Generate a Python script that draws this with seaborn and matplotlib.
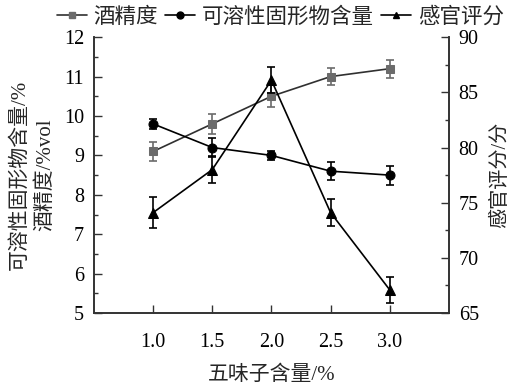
import numpy as np
import pandas as pd
import seaborn as sns
import matplotlib
matplotlib.use("Agg")
import matplotlib.pyplot as plt
from matplotlib.ticker import MultipleLocator
from matplotlib.lines import Line2D

# 五味子含量/%
content = [1.0, 1.5, 2.0, 2.5, 3.0]
# 酒精度
alcohol = [9.1, 9.8, 10.5, 11.0, 11.2]
alcohol_err = [0.24, 0.25, 0.28, 0.22, 0.23]
# 可溶性固形物含量
solids = [9.8, 9.2, 9.0, 8.6, 8.5]
solids_err = [0.12, 0.24, 0.12, 0.23, 0.24]
# 感官评分
score = [74.1, 78.0, 86.1, 74.1, 67.1]
score_err = [1.4, 1.2, 1.2, 1.2, 1.2]

sns.set_theme(style="ticks")
fonts = ["Liberation Serif", "Noto Sans CJK SC", "DejaVu Sans"]
plt.rcParams["font.family"] = fonts
plt.rcParams["axes.unicode_minus"] = False

df = pd.DataFrame({"x": content, "alcohol": alcohol, "solids": solids, "score": score})

fig = plt.figure(figsize=(5.19, 3.87), dpi=100)
ax = fig.add_axes([0.181, 0.191, 0.684, 0.713])
ax2 = ax.twinx()

gray = "#6b6b6b"
sns.lineplot(data=df, x="x", y="alcohol", ax=ax, color="#303030", lw=1.2,
             marker="s", markersize=6, markerfacecolor=gray, markeredgecolor=gray)
ax.errorbar(content, alcohol, yerr=alcohol_err, fmt="none", ecolor=gray,
            elinewidth=1.2, capsize=3, capthick=1.2)
sns.lineplot(data=df, x="x", y="solids", ax=ax, color="black", lw=1.2,
             marker="o", markersize=6.5, markerfacecolor="black", markeredgecolor="black")
ax.errorbar(content, solids, yerr=solids_err, fmt="none", ecolor="black",
            elinewidth=1.2, capsize=3, capthick=1.2)
sns.lineplot(data=df, x="x", y="score", ax=ax2, color="black", lw=1.2,
             marker="^", markersize=7, markerfacecolor="black", markeredgecolor="black")
ax2.errorbar(content, score, yerr=score_err, fmt="none", ecolor="black",
             elinewidth=1.2, capsize=3, capthick=1.2)

ax.set_xlim(0.5, 3.5)
ax.set_ylim(5, 12)
ax2.set_ylim(65, 90)
ax.set_xticks(content)
ax.set_xticklabels([f"{v:.1f}" for v in content])
ax.yaxis.set_major_locator(MultipleLocator(1))
ax.yaxis.set_minor_locator(MultipleLocator(0.5))
ax2.yaxis.set_major_locator(MultipleLocator(5))
ax2.yaxis.set_minor_locator(MultipleLocator(2.5))

for a in (ax, ax2):
    a.spines["top"].set_visible(False)
    for s in a.spines.values():
        s.set_linewidth(1.2)
        s.set_color("#333333")
    a.tick_params(which="both", direction="in", width=1.0, colors="#333333",
                  labelcolor="black", labelsize=14.5)
    a.tick_params(which="major", length=6)
    a.tick_params(which="minor", length=3)
ax.tick_params(axis="x", pad=14)
ax.tick_params(axis="y", pad=7)
ax2.tick_params(axis="y", pad=7)

ax.set_xlabel("五味子含量/%", fontsize=15, labelpad=10)
ax.set_ylabel("可溶性固形物含量/%\n酒精度/%vol", fontsize=15, labelpad=6, linespacing=1.45)
ax2.set_ylabel("感官评分/分", fontsize=14.5, labelpad=9)

handles = [
    Line2D([], [], color="#303030", lw=1.2, marker="s", markersize=5,
           markerfacecolor=gray, markeredgecolor=gray),
    Line2D([], [], color="black", lw=1.2, marker="o", markersize=5),
    Line2D([], [], color="black", lw=1.2, marker="^", markersize=5),
]
fig.legend(handles, ["酒精度", "可溶性固形物含量", "感官评分"], loc="center",
           bbox_to_anchor=(0.54, 0.955), ncol=3, frameon=False, fontsize=15.5,
           handlelength=1.4, handletextpad=0.3, columnspacing=0.35, borderaxespad=0)

fig.savefig("out.png", dpi=100)
